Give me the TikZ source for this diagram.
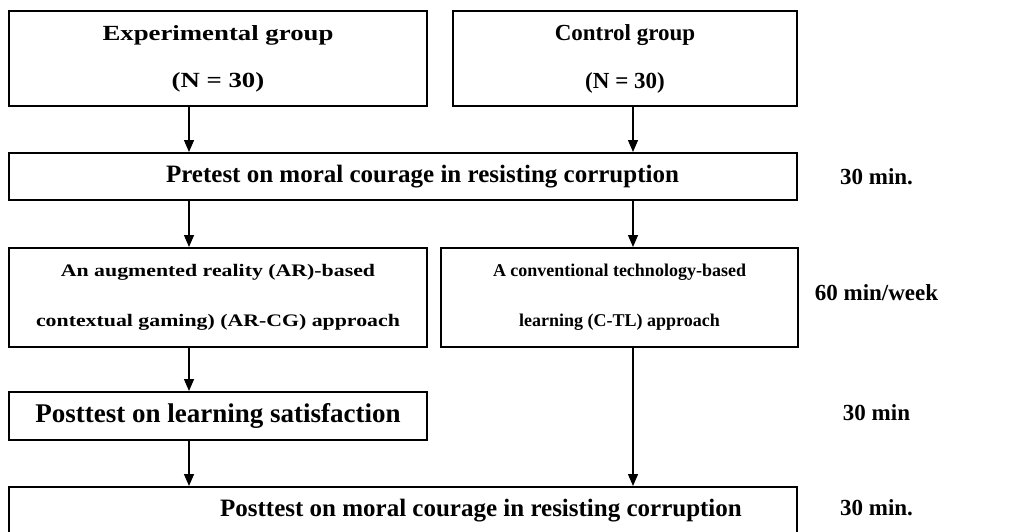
\documentclass[tikz,border=0pt]{standalone}
\usepackage{fontspec}
\setmainfont{Liberation Serif}
\newfontfamily\widefont[FakeStretch=1.24]{Liberation Serif}
\usetikzlibrary{positioning}
\usetikzlibrary{arrows.meta}

\tikzset{
  box/.style={draw, line width=2pt, inner sep=0pt, align=center},
  arr/.style={line width=1.3pt, -{Triangle[width=10pt,length=12pt]}},
  lbl/.style={font=\fontsize{23}{27}\selectfont\bfseries}
}

\begin{document}
\begin{tikzpicture}[x=1pt,y=-1pt]
\clip (0,0) rectangle (1030,531);
% groups
\node[box, minimum width=418pt, minimum height=95pt, font=\widefont\fontsize{21.6}{47}\selectfont\bfseries] (exp) at (218,58.5) {Experimental group\\(N = 30)};
\node[box, minimum width=344pt, minimum height=95pt, font=\fontsize{23}{48}\selectfont\bfseries] (ctl) at (625,58.5) {Control group\\(N = 30)};
% pretest
\node[box, minimum width=788pt, minimum height=47pt, font=\fontsize{25}{30}\selectfont\bfseries] (pre) at (403,176.5) {\hspace*{39pt}Pretest on moral courage in resisting corruption};
% learning approaches
\node[box, minimum width=418pt, minimum height=99pt, font=\widefont\fontsize{17.6}{50}\selectfont\bfseries] (arcg) at (218,297.5) {An augmented reality (AR)-based\\contextual gaming) (AR-CG) approach};
\node[box, minimum width=357pt, minimum height=99pt, font=\fontsize{18}{50}\selectfont\bfseries] (ctl-app) at (619.5,297.5) {A conventional technology-based\\learning (C-TL) approach};
% posttests
\node[box, minimum width=418pt, minimum height=48pt, font=\fontsize{27}{32}\selectfont\bfseries] (sat) at (218,416) {Posttest on learning satisfaction};
\node[box, minimum width=788pt, minimum height=48pt, font=\fontsize{25}{30}\selectfont\bfseries] (post) at (403,511) {\hspace*{156pt}Posttest on moral courage in resisting corruption};
% times
\node[lbl] (t-pre) at (876.5,177) {30 min.};
\node[lbl] (t-app) at (876.5,293) {60 min/week};
\node[lbl] (t-sat) at (876.5,413) {30 min};
\node[lbl] (t-post) at (876.5,508) {30 min.};
% arrows
\coordinate (xl) at (189,0);
\coordinate (xr) at (633,0);
\draw[arr] (exp.south -| xl) -- (pre.north -| xl);
\draw[arr] (ctl.south -| xr) -- (pre.north -| xr);
\draw[arr] (pre.south -| xl) -- (arcg.north -| xl);
\draw[arr] (pre.south -| xr) -- (ctl-app.north -| xr);
\draw[arr] (arcg.south -| xl) -- (sat.north -| xl);
\draw[arr] (sat.south -| xl) -- (post.north -| xl);
\draw[arr] (ctl-app.south -| xr) -- (post.north -| xr);
\end{tikzpicture}
\end{document}
